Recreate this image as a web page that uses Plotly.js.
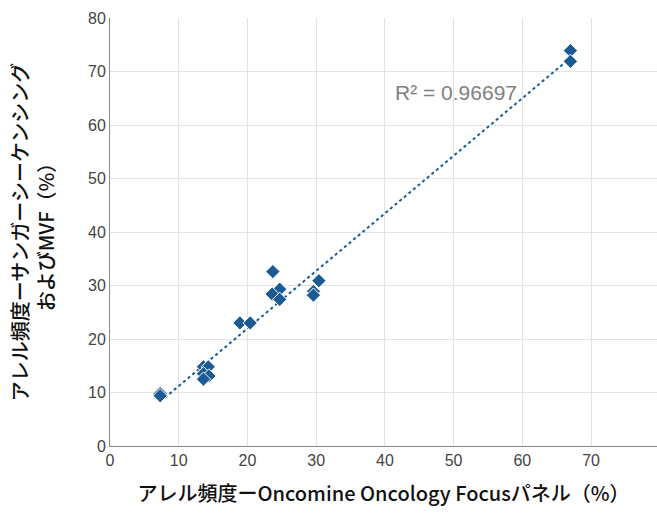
<!DOCTYPE html>
<html><head><meta charset="utf-8">
<script src="https://cdn.plot.ly/plotly-3.0.1.min.js"></script>
<style>html,body{margin:0;padding:0;background:#fff;}#chart{width:657px;height:515px;}</style>
</head><body><div id="chart"></div>
<script>
const xVals = [7.3, 7.3, 13.6, 14.3, 13.6, 14.4, 13.6, 18.9, 20.4, 23.7, 24.7, 23.6, 24.7, 30.4, 29.6, 29.6, 67.0, 67.0];
const yVals = [9.8, 9.4, 14.8, 14.8, 13.5, 13.1, 12.5, 23.0, 23.0, 32.6, 29.3, 28.4, 27.4, 30.9, 28.9, 28.2, 73.9, 71.9];
const r2Label = "R² = 0.96697";
const xTitle = "アレル頻度ーOncomine Oncology Focusパネル（%）";
const yTitle = "アレル頻度ーサンガーシーケンシング<br>およびMVF（%）";

// least-squares trendline from the data
const n = xVals.length;
const mx = xVals.reduce((a,b)=>a+b,0)/n, my = yVals.reduce((a,b)=>a+b,0)/n;
let sxy=0, sxx=0;
for (let i=0;i<n;i++){ sxy+=(xVals[i]-mx)*(yVals[i]-my); sxx+=(xVals[i]-mx)**2; }
const slope = sxy/sxx, icpt = my - slope*mx;
const xmin = Math.min(...xVals), xmax = Math.max(...xVals);
const lineX = [xmin, xmax], lineY = lineX.map(v=>icpt+slope*v);

const col = '#1b5a93';
const titleFont = {size:20, color:'#111', family:'"Noto Sans CJK JP", sans-serif', weight:500};
const data = [
  {x: lineX, y: lineY, mode:'lines', line:{color:col, width:2, dash:'dot'}, hoverinfo:'skip'},
  {x: xVals, y: yVals, mode:'markers', marker:{symbol:'diamond', size:11, color:col, line:{color:'#ffffff', width:1}}}
];
const layout = {
  width:657, height:515, showlegend:false,
  margin:{l:110, r:0, t:18, b:69},
  paper_bgcolor:'#fff', plot_bgcolor:'#fff',
  font:{family:'"Liberation Sans", "Noto Sans CJK JP", sans-serif', color:'#444'},
  xaxis:{range:[0,79.6], dtick:10, tick0:0, showgrid:true, gridcolor:'#e3e3e3', gridwidth:1,
    showline:true, linecolor:'#888', linewidth:1, zeroline:false, ticks:'',
    tickfont:{size:16, color:'#444'},
    title:{text:xTitle, font:titleFont, standoff:18}},
  yaxis:{range:[0,80], dtick:10, tick0:0, showgrid:true, gridcolor:'#e3e3e3', gridwidth:1,
    showline:true, linecolor:'#888', linewidth:1, zeroline:false, ticks:'', ticklen:0,
    tickfont:{size:16, color:'#444'},
    title:{text:yTitle, font:titleFont, standoff:28}},
  annotations:[{x:50.3, y:66, xref:'x', yref:'y', text:r2Label, showarrow:false,
    font:{size:21, color:'#808080', family:'"Liberation Sans", sans-serif'}}]
};
Plotly.newPlot('chart', data, layout, {displayModeBar:false, staticPlot:true});
</script></body></html>
